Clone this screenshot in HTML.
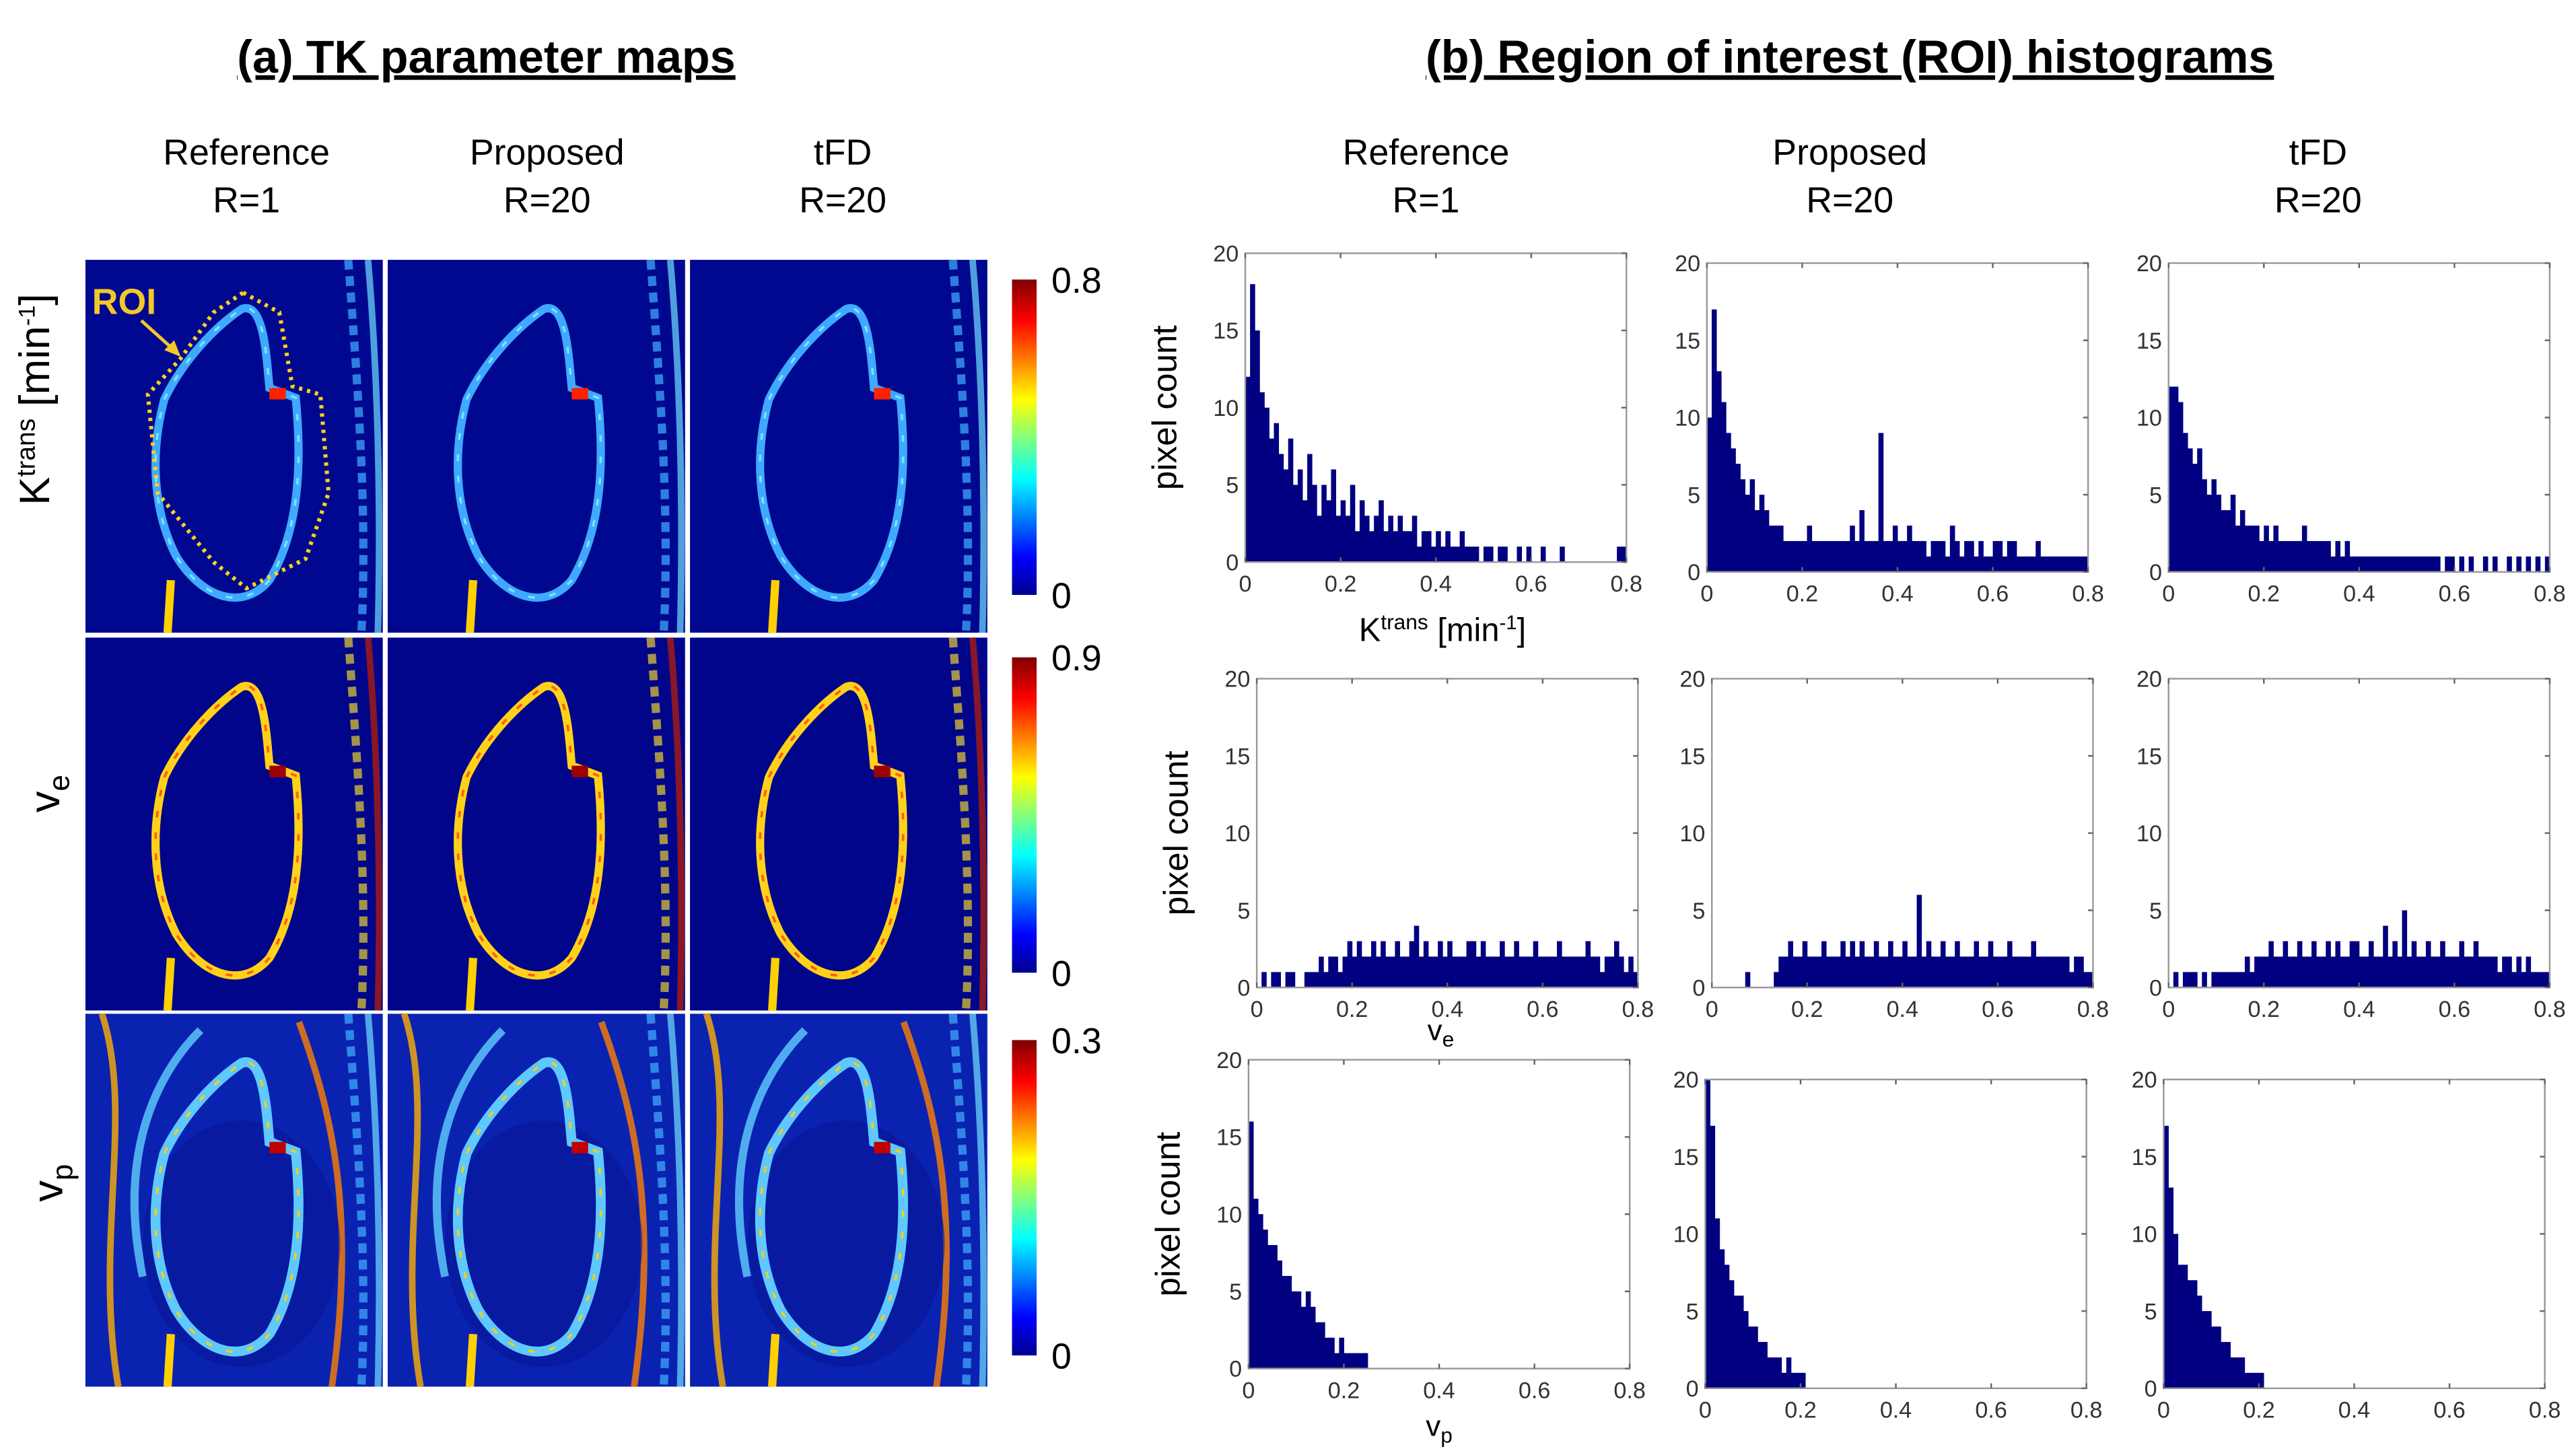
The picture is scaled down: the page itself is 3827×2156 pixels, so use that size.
<!DOCTYPE html>
<html><head><meta charset="utf-8"><style>
html,body{margin:0;padding:0;background:#fff;}
svg{display:block;font-family:"Liberation Sans",sans-serif;}
</style></head><body>
<svg id="fig" width="3827" height="2156" viewBox="0 0 1568 883" xmlns="http://www.w3.org/2000/svg">
<defs>
<linearGradient id="jet" x1="0" y1="1" x2="0" y2="0">
<stop offset="0" stop-color="#00008f"/><stop offset="0.12" stop-color="#0000ff"/>
<stop offset="0.37" stop-color="#00ffff"/><stop offset="0.62" stop-color="#ffff00"/>
<stop offset="0.87" stop-color="#ff0000"/><stop offset="1" stop-color="#800000"/>
</linearGradient>
</defs>
<text x="296" y="44" font-size="28" font-weight="bold" text-anchor="middle" text-decoration="underline">(a) TK parameter maps</text>
<text x="1126" y="44" font-size="28" font-weight="bold" text-anchor="middle" text-decoration="underline">(b) Region of interest (ROI) histograms</text>
<g id="maps"></g>
<g id="hists"></g>
</svg>
<script>
const NS="http://www.w3.org/2000/svg";
const svg=document.getElementById('fig');
const mapsG=document.getElementById('maps');
const histG=document.getElementById('hists');
function mk(tag,attrs,parent,txt){const e=document.createElementNS(NS,tag);for(const k in attrs)e.setAttribute(k,attrs[k]);if(txt!==undefined)e.textContent=txt;(parent||svg).appendChild(e);return e;}

// ---- data ----
const colHeaders=["Reference","Proposed","tFD"];
const colSub=["R=1","R=20","R=20"];
const xTicks=[0,0.2,0.4,0.6,0.8];
const yTicks=[0,5,10,15,20];
const cbarMax=["0.8","0.9","0.3"];
const kRef=[12,18,15,11,10,8,9,7,6,8,5,6,4,7,5,3,5,4,6,3,4,3,5,2,4,3,2,3,4,2,3,2,3,2,2,3,1,2,2,1,2,1,2,1,1,2,1,1,1,0,1,1,0,1,1,0,0,1,0,1,0,0,1,0,0,0,1,0,0,0,0,0,0,0,0,0,0,0,1,1];
const kProp=[10,17,13,11,9,8,7,6,5,6,4,5,4,3,3,3,2,2,2,2,2,3,2,2,2,2,2,2,2,2,3,2,4,2,2,2,9,2,2,3,2,2,3,2,2,2,1,2,2,2,1,3,2,1,2,2,1,2,1,1,2,2,1,2,2,1,1,1,1,2,1,1,1,1,1,1,1,1,1,1];
const kTfd=[12,12,11,9,8,7,8,6,5,6,5,4,4,5,3,4,3,3,3,2,3,2,3,2,2,2,2,2,3,2,2,2,2,2,1,2,1,2,1,1,1,1,1,1,1,1,1,1,1,1,1,1,1,1,1,1,1,0,1,1,0,1,0,1,0,0,1,0,1,0,0,1,0,1,0,1,0,1,0,1];
const veRef=[0,1,0,1,1,0,1,1,0,0,1,1,1,2,1,2,2,1,2,3,2,3,2,2,3,2,3,2,2,3,2,2,3,4,2,3,2,2,3,2,3,2,2,2,3,3,2,3,2,2,2,3,2,2,3,2,2,2,3,2,2,2,2,3,2,2,2,2,2,3,2,2,1,2,2,3,2,1,2,1];
const veProp=[0,0,0,0,0,0,0,1,0,0,0,0,0,1,2,2,3,2,2,3,2,2,2,3,2,2,2,3,2,3,2,3,2,2,3,2,2,3,2,2,3,2,2,6,2,3,2,2,3,2,2,3,2,2,2,3,2,2,3,2,2,2,3,2,2,2,2,3,2,2,2,2,2,2,2,1,2,2,1,1];
const veTfd=[0,1,0,1,1,1,0,1,0,1,1,1,1,1,1,1,2,1,2,2,2,3,2,2,3,2,2,3,2,2,3,2,2,3,2,3,2,2,3,3,2,2,3,2,2,4,2,3,2,5,2,3,2,2,3,2,2,3,2,2,2,3,2,2,3,2,2,2,2,1,2,2,1,2,1,2,1,1,1,1];
const vpRef=[16,11,10,9,8,8,7,6,6,5,5,4,5,4,3,3,2,2,1,2,1,1,1,1,1,0,0,0,0,0,0,0,0,0,0,0,0,0,0,0,0,0,0,0,0,0,0,0,0,0,0,0,0,0,0,0,0,0,0,0,0,0,0,0,0,0,0,0,0,0,0,0,0,0,0,0,0,0,0,0];
const vpProp=[20,17,11,9,8,7,6,6,5,4,4,3,3,2,2,2,1,2,1,1,1,0,0,0,0,0,0,0,0,0,0,0,0,0,0,0,0,0,0,0,0,0,0,0,0,0,0,0,0,0,0,0,0,0,0,0,0,0,0,0,0,0,0,0,0,0,0,0,0,0,0,0,0,0,0,0,0,0,0,0];
const vpTfd=[17,13,10,8,8,7,7,6,5,5,4,4,3,3,2,2,2,1,1,1,1,0,0,0,0,0,0,0,0,0,0,0,0,0,0,0,0,0,0,0,0,0,0,0,0,0,0,0,0,0,0,0,0,0,0,0,0,0,0,0,0,0,0,0,0,0,0,0,0,0,0,0,0,0,0,0,0,0,0,0];
const histSeries=[[kRef,kProp,kTfd],[veRef,veProp,veTfd],[vpRef,vpProp,vpTfd]];

// ---- panel a headers ----
const mapX=[52,236,420], mapY=[158,388,617], mapW=181, mapH=227;
colHeaders.forEach((h,i)=>{
  const cx=[150,333,513][i];
  let t=mk('text',{x:cx,y:100,'font-size':22,'text-anchor':'middle'},svg,h);
  
  t=mk('text',{x:cx,y:129,'font-size':22,'text-anchor':'middle'},svg,colSub[i]);
  
});
let rl=mk('text',{transform:'translate(30,243) rotate(-90)','font-size':26,'text-anchor':'middle'},svg);

rl.innerHTML='K<tspan font-size="16" dy="-9">trans</tspan><tspan dy="9"> [min</tspan><tspan font-size="14" dy="-9">-1</tspan><tspan dy="9">]</tspan>';
rl=mk('text',{transform:'translate(36,483) rotate(-90)','font-size':26,'text-anchor':'middle'},svg);

rl.innerHTML='v<tspan font-size="18" dy="6">e</tspan>';
rl=mk('text',{transform:'translate(38,720) rotate(-90)','font-size':26,'text-anchor':'middle'},svg);

rl.innerHTML='v<tspan font-size="18" dy="6">p</tspan>';

const kidney="M48,85 C60,60 80,40 95,30 C108,25 110,55 112,78 L128,84 C132,125 130,165 112,195 C95,215 70,205 55,180 C40,150 40,115 48,85 Z";
const rowStyle=[
  {bg:'#00088f',ring:'#3fa8ff',ring2:'#7fe8ff',rw:5,spot:'#ff2000',s1:'#40b0ff',s2:'#70e0ff'},
  {bg:'#00058a',ring:'#ffd21a',ring2:'#ff5010',rw:5,spot:'#a00000',s1:'#e8d030',s2:'#c02000'},
  {bg:'#0a22b0',ring:'#5fc8ff',ring2:'#ffd000',rw:6,spot:'#c00000',s1:'#40b0ff',s2:'#70e0ff'}
];
for(let r=0;r<3;r++){
  const s=rowStyle[r];
  for(let c=0;c<3;c++){
    const g=mk('g',{transform:`translate(${mapX[c]},${mapY[r]})`},mapsG);
    
    mk('rect',{x:0,y:0,width:mapW,height:mapH,fill:s.bg},g);
    if(r===2){
      mk('path',{d:"M10,0 C30,60 5,140 20,227",fill:'none',stroke:'#ffb000','stroke-width':4,opacity:0.8},g);
      mk('path',{d:"M70,10 C40,40 20,90 35,160",fill:'none',stroke:'#60d0ff','stroke-width':5,opacity:0.8},g);
      mk('path',{d:"M130,5 C150,60 165,120 150,227",fill:'none',stroke:'#ff8000','stroke-width':4,opacity:0.8},g);
      mk('ellipse',{cx:95,cy:140,rx:60,ry:75,fill:'#061596',opacity:0.6},g);
    }
    mk('path',{d:kidney,fill:'none',stroke:s.ring,'stroke-width':s.rw},g);
    mk('path',{d:kidney,fill:'none',stroke:s.ring2,'stroke-width':1.5,'stroke-dasharray':'4 9',opacity:0.9},g);
    mk('path',{d:"M160,0 C165,70 172,150 168,227",fill:'none',stroke:s.s1,'stroke-width':5,opacity:0.7,'stroke-dasharray':'6 4'},g);
    mk('path',{d:"M172,0 C178,70 180,150 178,227",fill:'none',stroke:s.s2,'stroke-width':4,opacity:0.7},g);
    mk('path',{d:"M50,227 L52,195",fill:'none',stroke:'#ffd000','stroke-width':5},g);
    mk('rect',{x:112,y:78,width:10,height:7,fill:s.spot},g);
  }
  const cy=[170,400,633][r];
  const cb=mk('rect',{x:616,y:cy,width:15,height:192,fill:'url(#jet)'},svg);
  
  let t=mk('text',{x:640,y:cy+8,'font-size':22},svg,cbarMax[r]);
  
  t=mk('text',{x:640,y:cy+200,'font-size':22},svg,'0');
  
}
const roi=mk('path',{d:"M148,178 L170,190 L178,235 L195,240 L200,300 L186,340 L150,358 L130,342 L96,300 L90,240 L110,218 L130,190 Z",fill:'none',stroke:'#ffd21a','stroke-width':2.5,'stroke-dasharray':'2 3'},svg);

let rt=mk('text',{x:56,y:191,'font-size':22,'font-weight':'bold',fill:'#f2c82a'},svg,'ROI');

mk('line',{x1:86,y1:195,x2:106,y2:213,stroke:'#f2c82a','stroke-width':2},svg);
mk('path',{d:"M110,217 L100,213 L106,207 Z",fill:'#f2c82a'},svg);

// ---- panel b ----
[[868,'Reference','R=1'],[1126,'Proposed','R=20'],[1411,'tFD','R=20']].forEach(h=>{
  let t=mk('text',{x:h[0],y:100,'font-size':22,'text-anchor':'middle'},svg,h[1]);
  
  t=mk('text',{x:h[0],y:129,'font-size':22,'text-anchor':'middle'},svg,h[2]);
  
});
const boxes=[[[758,154],[1039,160],[1320,160]],[[765,413],[1042,413],[1320,413]],[[760,645],[1038,657],[1317,657]]];
const BW=232,BH=188,XMAX=0.8,YMAX=20;
for(let r=0;r<3;r++)for(let c=0;c<3;c++){
  const [bx,by]=boxes[r][c];
  const g=mk('g',{},histG);
  
  const xs=v=>bx+v/XMAX*BW, ys=v=>by+BH-v/YMAX*BH;
  const data=histSeries[r][c], bw=XMAX/data.length;
  data.forEach((v,i)=>{
    if(v<=0)return;
    const b=mk('rect',{x:xs(i*bw),y:ys(v),width:xs(bw)-xs(0)+0.2,height:ys(0)-ys(v),fill:'#000080'},g);
    
  });
  mk('rect',{x:bx,y:by,width:BW,height:BH,fill:'none',stroke:'#999','stroke-width':1},g);
  xTicks.forEach(t=>{
    mk('line',{x1:xs(t),y1:by+BH,x2:xs(t),y2:by+BH-3,stroke:'#666'},g);
    mk('line',{x1:xs(t),y1:by,x2:xs(t),y2:by+3,stroke:'#666'},g);
    const l=mk('text',{x:xs(t),y:by+BH+18,'font-size':14,'text-anchor':'middle',fill:'#333'},g,String(t));
    
  });
  yTicks.forEach(t=>{
    mk('line',{x1:bx+BW,y1:ys(t),x2:bx+BW-3,y2:ys(t),stroke:'#666'},g);
    const l=mk('text',{x:bx-4,y:ys(t)+5,'font-size':14,'text-anchor':'end',fill:'#333'},g,String(t));
    
  });
  if(c===0){
    const yl=mk('text',{transform:`translate(${bx-42},${by+BH/2}) rotate(-90)`,'font-size':21,'text-anchor':'middle'},g,'pixel count');
    
  }
}
let xl=mk('text',{x:878,y:390,'font-size':20,'text-anchor':'middle'},histG);

xl.innerHTML='K<tspan font-size="13" dy="-7">trans</tspan><tspan dy="7"> [min</tspan><tspan font-size="12" dy="-7">-1</tspan><tspan dy="7">]</tspan>';
xl=mk('text',{x:877,y:633,'font-size':18,'text-anchor':'middle'},histG);

xl.innerHTML='v<tspan font-size="13" dy="4">e</tspan>';
xl=mk('text',{x:876,y:874,'font-size':18,'text-anchor':'middle'},histG);

xl.innerHTML='v<tspan font-size="13" dy="4">p</tspan>';
</script>
</body></html>
